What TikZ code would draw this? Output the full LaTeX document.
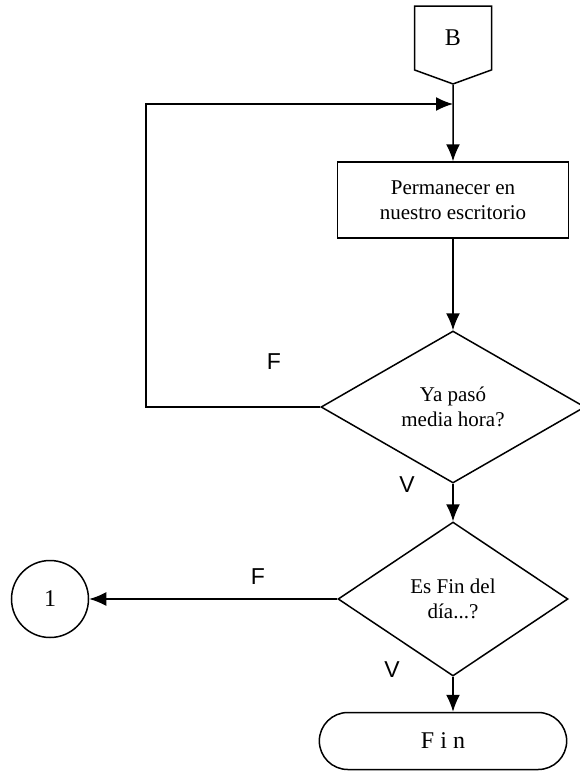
\documentclass[tikz,border=0pt]{standalone}
\usepackage{fontspec}
\setmainfont{Liberation Serif}
\newfontfamily\lblfont{Liberation Sans}
\usetikzlibrary{arrows.meta,shapes.geometric,shapes.symbols,shapes.misc}
\usetikzlibrary{positioning}
\tikzset{>={Latex[length=17pt,width=14pt]}}

\begin{document}
\begin{tikzpicture}[x=1pt,y=-1pt,line width=1.5pt,
	proc/.style={draw, rectangle, minimum width=231pt, minimum height=76pt, align=center, font=\fontsize{21}{25}\selectfont},
	dec/.style={draw, diamond, inner sep=0pt, align=center, font=\fontsize{21}{25}\selectfont},
	offpage/.style={draw, signal, signal to=south, signal pointer angle=140, minimum width=77pt, minimum height=68pt, font=\fontsize{24}{28}\selectfont},
	conn/.style={draw, circle, minimum size=77pt, font=\fontsize{24}{28}\selectfont},
	term/.style={draw, rounded rectangle, minimum width=254pt, minimum height=57pt, font=\fontsize{24}{28}\selectfont},
	lbl/.style={font=\lblfont\fontsize{23}{27}\selectfont},
	node distance=1cm, on grid]
		\useasboundingbox (0,0) rectangle (580,772);
		\node[proc] (perm) at (453,200) {Permanecer en\\nuestro escritorio};
		\node[offpage] (B) [above=162pt of perm] {B};
		\node[dec, minimum width=264pt, minimum height=152pt] (d1) [below=207pt of perm] {Ya pasó\\media hora?};
		\node[dec, minimum width=230pt, minimum height=154pt] (d2) [below=192pt of d1] {Es Fin del\\día...?};
		\node[conn] (c1) [left=403pt of d2] {1};
		\node[term] (fin) [below left=142pt and 10pt of d2] {F i n};
		\coordinate[above=96pt of perm] (m1);
		\coordinate[left=307pt of m1] (k1);
		\node[lbl] (f1) [above left=45pt and 179pt of d1] {F};
		\node[lbl] (v1) [below left=78pt and 46pt of d1] {V};
		\node[lbl] (f2) [above left=22pt and 195pt of d2] {F};
		\node[lbl] (v2) [below left=71pt and 61pt of d2] {V};
		\path[->]
			(B) edge (perm)
			(perm) edge (d1)
			(d1) edge (d2)
			(d2) edge (c1);
		\draw[->] (d1.west) -| (k1) -- (m1);
		\draw[->] (d2.south) -- (d2.south |- fin.north);
	\end{tikzpicture}
\end{document}
